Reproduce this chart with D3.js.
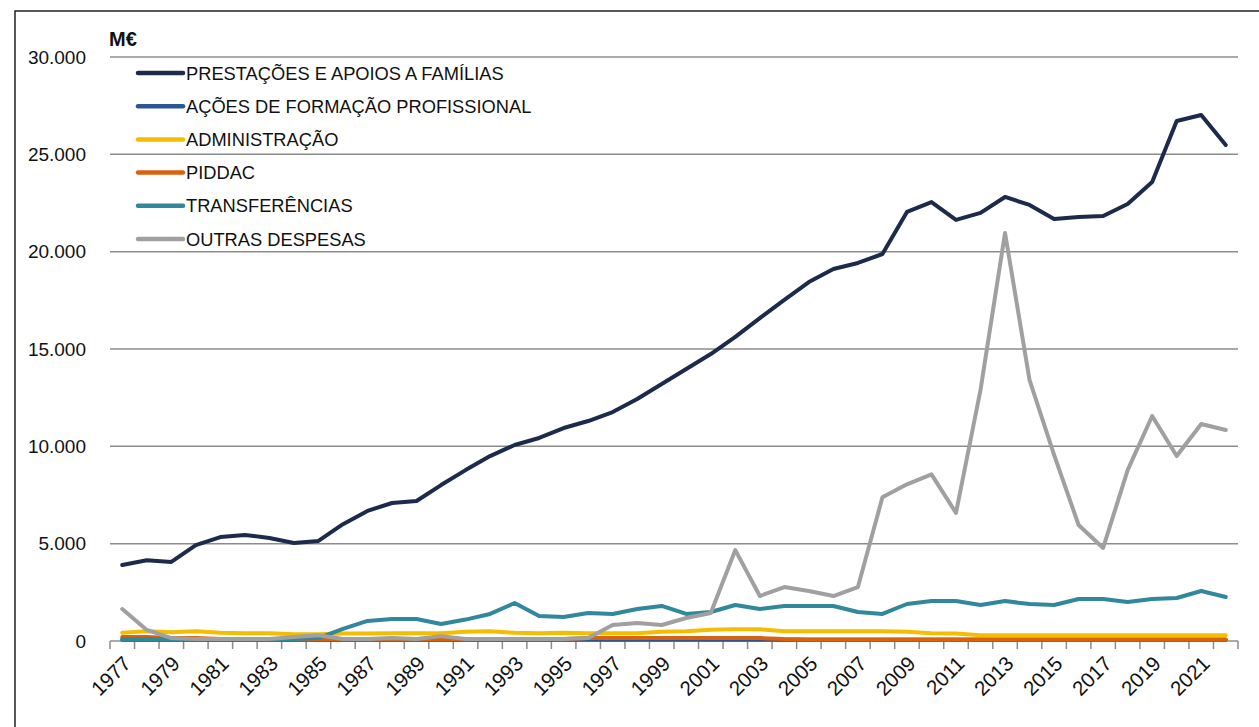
<!DOCTYPE html>
<html><head><meta charset="utf-8">
<script src="https://cdn.jsdelivr.net/npm/d3@7"></script>
<style>body{margin:0;background:#fff;} svg{display:block;}</style>
</head><body>
<svg id="c" width="1259" height="727"></svg>
<script>
const years = d3.range(1977, 2023).map(String);
const seriesNames = ["PRESTAÇÕES E APOIOS A FAMÍLIAS","AÇÕES DE FORMAÇÃO PROFISSIONAL","ADMINISTRAÇÃO","PIDDAC","TRANSFERÊNCIAS","OUTRAS DESPESAS"];
const seriesColors = ["#1c2b4b","#2a5597","#f4bd00","#d9620f","#31879c","#a0a0a0"];
const prestacoes = [3900,4150,4060,4930,5340,5450,5290,5030,5140,6000,6680,7090,7190,8010,8780,9500,10070,10430,10940,11300,11760,12430,13200,13970,14740,15620,16590,17520,18440,19110,19420,19880,22040,22550,21630,21990,22810,22400,21680,21780,21830,22450,23580,26710,27020,25480];
const formacao = [60,60,60,60,60,60,60,60,60,60,60,60,60,60,60,60,60,60,60,60,60,60,60,60,60,60,60,60,60,60,60,60,60,60,60,60,60,60,60,60,60,60,60,60,60,60];
const administracao = [430,500,450,500,420,400,400,350,350,380,380,400,400,400,480,500,420,400,430,400,400,400,480,500,580,600,600,500,500,500,500,500,480,400,380,300,300,300,300,300,300,300,300,300,300,300];
const piddac = [200,200,150,150,100,100,100,100,100,100,100,100,100,100,100,100,100,100,100,150,150,150,150,150,150,150,150,100,80,80,80,80,80,80,80,80,80,80,80,80,80,80,80,80,80,80];
const transferencias = [100,100,100,100,100,100,100,100,150,620,1030,1130,1130,870,1100,1390,1950,1280,1230,1440,1390,1640,1800,1390,1490,1850,1640,1800,1800,1800,1490,1390,1900,2050,2050,1850,2050,1900,1850,2160,2160,2000,2160,2210,2570,2260];
const outras = [1640,570,150,100,100,100,100,200,300,100,100,150,100,250,100,100,100,100,100,150,820,920,820,1180,1440,4670,2310,2770,2570,2310,2770,7380,8050,8560,6580,12900,20960,13400,9560,5960,4780,8780,11560,9500,11150,10840];
const yTicks = [0,5000,10000,15000,20000,25000,30000];
const xLabels = years.filter((d,i)=>i%2===0);

const allSeries = [prestacoes, formacao, administracao, piddac, transferencias, outras];
const svg = d3.select("#c");
const font = "'Liberation Sans',Arial,sans-serif";

// frame
svg.append("path").attr("d","M15,727 V11 H1259").attr("fill","none").attr("stroke","#222").attr("stroke-width",1.5);

const pLeft = 110, pRight = 1238, pTop = 57, pBottom = 641;
const x = d3.scaleBand().domain(years).range([pLeft, pRight]);
const y = d3.scaleLinear().domain([0,30000]).range([pBottom, pTop]);

// gridlines
svg.append("g").selectAll("line").data(yTicks.filter(d=>d>0)).join("line")
  .attr("x1",pLeft).attr("x2",pRight).attr("y1",d=>y(d)).attr("y2",d=>y(d))
  .attr("stroke","#8c8c8c").attr("stroke-width",1.5);

// y labels
const yAxis = d3.axisLeft(y).tickValues(yTicks).tickSize(0).tickPadding(24)
  .tickFormat(d=> d===0 ? "0" : d3.format(",")(d).replace(/,/g,"."));
const gy = svg.append("g").attr("transform",`translate(${pLeft},0)`).call(yAxis);
gy.select(".domain").remove();
gy.selectAll("text").attr("font-family",font).attr("font-size",19).attr("fill","#111");

// x axis
svg.append("line").attr("x1",pLeft).attr("x2",pRight).attr("y1",pBottom).attr("y2",pBottom).attr("stroke","#8c8c8c").attr("stroke-width",1.5);
const bounds = d3.range(years.length+1).map(i=>pLeft + i*x.step());
svg.append("g").selectAll("line").data(bounds).join("line")
  .attr("x1",d=>d).attr("x2",d=>d).attr("y1",pBottom).attr("y2",pBottom+8)
  .attr("stroke","#8c8c8c").attr("stroke-width",1.5);
svg.append("g").selectAll("text").data(xLabels).join("text")
  .attr("transform",d=>`translate(${x(d)+x.bandwidth()/2+6},${pBottom+20}) rotate(-45)`)
  .attr("text-anchor","end").attr("dominant-baseline","middle")
  .attr("font-family",font).attr("font-size",20.5).attr("fill","#111").text(d=>d);

// unit
svg.append("text").attr("x",109).attr("y",46).attr("font-family",font).attr("font-weight","bold").attr("font-size",20).attr("fill","#111").text("M€");

// lines (legend order, later series on top)
const line = d3.line().x((d,i)=>x(years[i])+x.bandwidth()/2).y(d=>y(d));
allSeries.forEach((s,k)=>{
  svg.append("path").datum(s).attr("d",line).attr("fill","none")
    .attr("stroke",seriesColors[k]).attr("stroke-width",4).attr("stroke-linejoin","round").attr("stroke-linecap","round");
});

// legend
const lg = svg.append("g");
seriesNames.forEach((n,i)=>{
  const yy = 73 + i*33.2;
  lg.append("line").attr("x1",138).attr("x2",183).attr("y1",yy).attr("y2",yy).attr("stroke",seriesColors[i]).attr("stroke-width",4.5).attr("stroke-linecap","round");
  lg.append("text").attr("x",186).attr("y",yy).attr("dominant-baseline","central").attr("font-family",font).attr("font-size",18.3).attr("fill","#111").text(n);
});
</script>
</body></html>
